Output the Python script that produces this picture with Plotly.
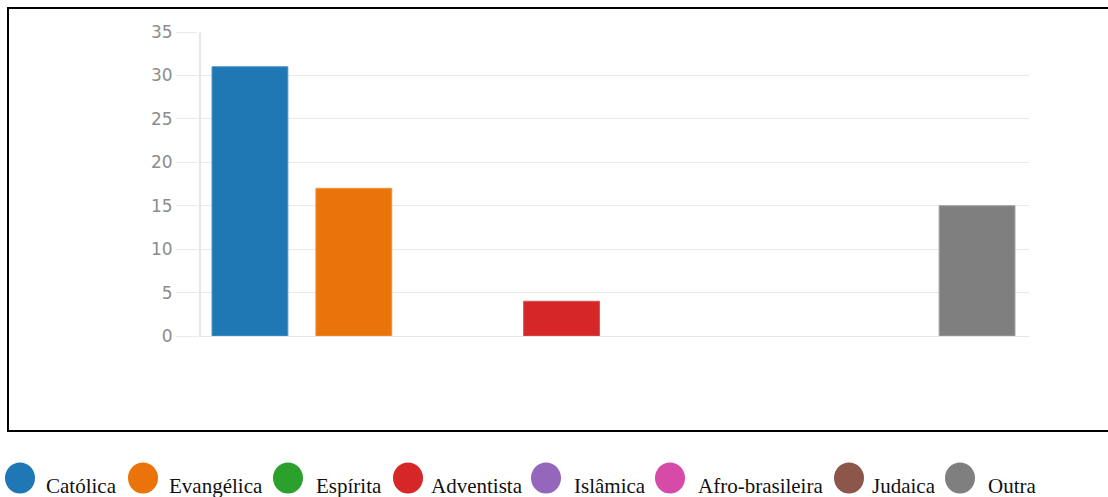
import plotly.graph_objects as go

categories = ["Católica", "Evangélica", "Espírita", "Adventista", "Islâmica",
              "Afro-brasileira", "Judaica", "Outra"]
values = [31, 17, 0, 4, 0, 0, 0, 15]
colors = ["#1f77b4", "#ea730a", "#2ca02c", "#d62728", "#9467bd",
          "#d64aa8", "#8c564b", "#7f7f7f"]
line_colors = ["#4d94c8", "#f0913e", "#55b455", "#de5253", "#a985ca",
               "#de70b9", "#a3776e", "#a0a0a0"]
y_ticks = [0, 5, 10, 15, 20, 25, 30, 35]

W, H = 1108, 497
L, R, T, B = 198, 79, 32, 161
PW, PH = W - L - R, H - T - B


def px(x):
    return (x - L) / PW


def py(y):
    return (T + PH - y) / PH


fig = go.Figure()
fig.add_trace(go.Bar(
    x=categories, y=values, width=0.73,
    marker=dict(color=colors,
                line=dict(color=line_colors,
                          width=[1 if v > 0 else 0 for v in values])),
    showlegend=False, hoverinfo="x+y",
))

# legend layout positions (pixels)
circle_x = [20, 143, 288, 408, 546, 670, 849, 960]
text_x = [44, 167, 314, 429, 572, 696, 870, 986]
shapes = [dict(type="rect", xref="paper", yref="paper",
               x0=px(8), x1=px(1114), y0=py(8), y1=py(431),
               line=dict(color="black", width=2), fillcolor="rgba(0,0,0,0)")]
annotations = []
for cat, col, cx, tx in zip(categories, colors, circle_x, text_x):
    shapes.append(dict(type="circle", xref="paper", yref="paper",
                       xsizemode="pixel", ysizemode="pixel",
                       xanchor=px(cx), yanchor=py(478),
                       x0=-15, x1=15, y0=-15.5, y1=15.5,
                       fillcolor=col, line=dict(width=0)))
    annotations.append(dict(text=cat, xref="paper", yref="paper",
                            x=px(tx), y=py(486), xanchor="left", yanchor="middle",
                            showarrow=False,
                            font=dict(family="Liberation Serif", size=21, color="#111")))

fig.update_layout(
    width=W, height=H,
    margin=dict(l=L, r=R, t=T, b=B),
    paper_bgcolor="white", plot_bgcolor="white",
    shapes=shapes, annotations=annotations,
    xaxis=dict(showticklabels=False, showgrid=False, zeroline=False,
               showline=False, ticks="", fixedrange=True),
    yaxis=dict(range=[0, 35], tickvals=y_ticks, showgrid=True,
               gridcolor="#e9e9e9", gridwidth=1, zeroline=True,
               zerolinecolor="#e6e6e6", zerolinewidth=1,
               ticks="outside", ticklen=21, tickcolor="#e9e9e9",
               tickfont=dict(family="DejaVu Sans", size=17, color="#8c8c8c"),
               showline=False),
    font=dict(family="DejaVu Sans"),
)

# vertical axis line at left edge of plot
fig.add_shape(type="line", xref="paper", yref="paper", x0=px(200), x1=px(200),
              y0=0, y1=1, line=dict(color="#e6e6e6", width=2), layer="below")

fig.write_html("out.html")
